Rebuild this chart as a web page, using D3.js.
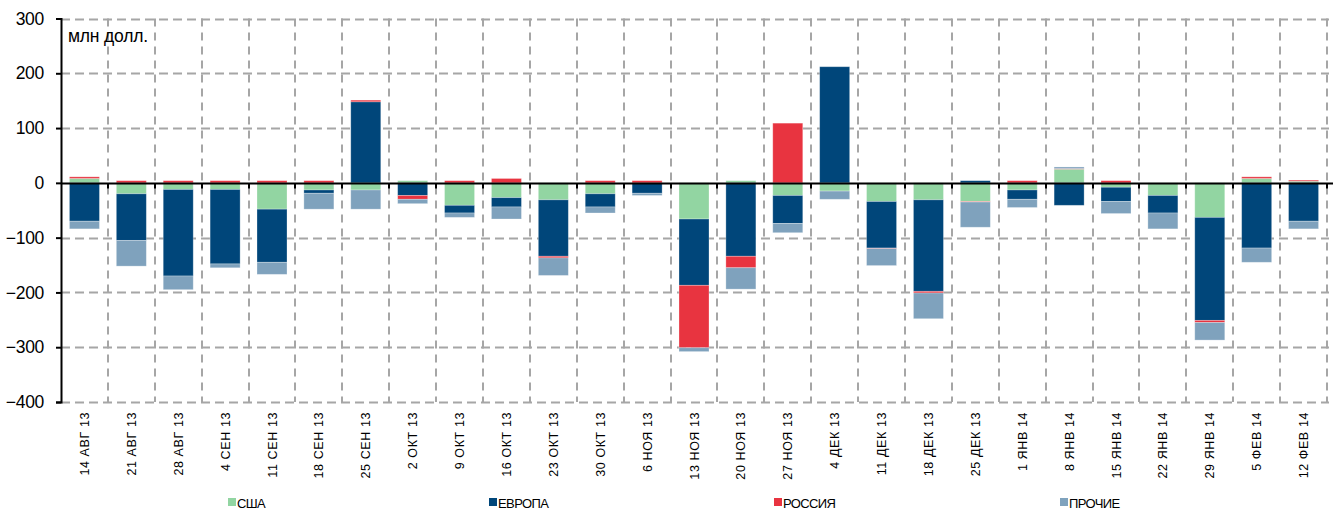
<!DOCTYPE html>
<html>
<head>
<meta charset="utf-8">
<script src="https://cdn.jsdelivr.net/npm/d3@7"></script>
<style>
  html, body { margin: 0; padding: 0; background: #fff; }
  svg { display: block; font-family: "Liberation Sans", Arial, sans-serif; }
</style>
</head>
<body>
<svg id="chart" width="1335" height="516"></svg>
<script>
// Weekly flows by region, million USD
const weeks = ["14 АВГ 13","21 АВГ 13","28 АВГ 13","4 СЕН 13","11 СЕН 13","18 СЕН 13","25 СЕН 13",
  "2 ОКТ 13","9 ОКТ 13","16 ОКТ 13","23 ОКТ 13","30 ОКТ 13","6 НОЯ 13","13 НОЯ 13","20 НОЯ 13",
  "27 НОЯ 13","4 ДЕК 13","11 ДЕК 13","18 ДЕК 13","25 ДЕК 13","1 ЯНВ 14","8 ЯНВ 14","15 ЯНВ 14",
  "22 ЯНВ 14","29 ЯНВ 14","5 ФЕВ 14","12 ФЕВ 14"];
const usa    = [8, -20, -12, -12, -48, -13, -13, 4, -41, -27, -31, -20, 0, -66, 4, -23, -15, -34, -31, -34, -13, 25, -8, -23, -63, 8, 3];
const europe = [-70, -85, -158, -136, -97, -6, 148, -23, -14, -17, -103, -24, -19, -121, -134, -51, 212, -85, -167, 4, -17, -41, -26, -32, -188, -119, -70];
const russia = [3, 4, 4, 4, 4, 4, 3, -7, 4, 8, -3, 4, 4, -114, -21, 109, 0, -1, -3, -1, 4, 1, 4, 0, -4, 3, 2];
const other  = [-14, -47, -25, -7, -22, -29, -35, -8, -8, -22, -32, -11, -4, -7, -39, -17, -15, -31, -47, -46, -15, 3, -22, -29, -32, -26, -14];

const seriesKeys  = ["usa", "europe", "russia", "other"];
const seriesNames = ["США", "ЕВРОПА", "РОССИЯ", "ПРОЧИЕ"];
const yTicks = [-400, -300, -200, -100, 0, 100, 200, 300];
const unitLabel = "млн долл.";

const colors = { usa: "#92d5a2", europe: "#00467a", russia: "#e83440", other: "#7fa2bd" };

const rows = weeks.map((w, i) => ({ week: w, usa: usa[i], europe: europe[i], russia: russia[i], other: other[i] }));

const svg = d3.select("#chart");
const plotLeft = 61, plotRight = 1327, plotTop = 18.5, plotBottom = 402;

const x = d3.scaleBand().domain(weeks).range([plotLeft, plotRight]).paddingInner(0.36).paddingOuter(0.18);
const y = d3.scaleLinear().domain([-400, 300]).range([plotBottom, plotTop]);

const boundaries = d3.range(1, weeks.length + 1).map(i => plotLeft + i * (plotRight - plotLeft) / weeks.length);

// grid
const grid = svg.append("g");
grid.selectAll("line.h").data(yTicks.filter(d => d !== 0)).join("line")
  .attr("x1", plotLeft).attr("x2", plotRight + 2)
  .attr("y1", d => Math.round(y(d)) + 0.5).attr("y2", d => Math.round(y(d)) + 0.5)
  .attr("stroke", "#a6a6a6").attr("stroke-width", 2).attr("stroke-dasharray", "9,5");
grid.selectAll("line.v").data(boundaries).join("line")
  .attr("x1", d => Math.round(d)).attr("x2", d => Math.round(d))
  .attr("y1", plotTop).attr("y2", plotBottom)
  .attr("stroke", "#a6a6a6").attr("stroke-width", 2).attr("stroke-dasharray", "8,6");

// stacked bars
const stacked = d3.stack().keys(seriesKeys).offset(d3.stackOffsetDiverging)(rows);
svg.append("g").selectAll("g").data(stacked).join("g")
  .attr("fill", d => colors[d.key])
  .selectAll("rect").data(d => d.filter(p => p[1] !== p[0])).join("rect")
  .attr("x", d => x(d.data.week))
  .attr("width", x.bandwidth())
  .attr("y", d => y(Math.max(d[0], d[1])))
  .attr("height", d => Math.abs(y(d[0]) - y(d[1])))
  .attr("stroke", "#ffffff").attr("stroke-opacity", 0.35).attr("stroke-width", 0.8);

// zero line with ticks at category boundaries
const y0 = Math.round(y(0)) + 0.5;
svg.append("line").attr("x1", plotLeft).attr("x2", plotRight + 6).attr("y1", y0).attr("y2", y0)
  .attr("stroke", "#000").attr("stroke-width", 2);
svg.append("g").selectAll("line").data(boundaries).join("line")
  .attr("x1", d => Math.round(d)).attr("x2", d => Math.round(d))
  .attr("y1", y0).attr("y2", y0 + 5)
  .attr("stroke", "#000").attr("stroke-width", 2);

// y axis
const yAxis = svg.append("g").attr("transform", `translate(${plotLeft},0)`)
  .call(d3.axisLeft(y).tickValues(yTicks).tickSize(5).tickPadding(12).tickFormat(d3.format("d")));
yAxis.select(".domain").attr("stroke", "#000").attr("stroke-width", 2);
yAxis.selectAll(".tick line").attr("stroke", "#000").attr("stroke-width", 2);
yAxis.selectAll(".tick text").attr("font-size", 17.5).attr("fill", "#000")
  .attr("font-family", "Liberation Sans, Arial, sans-serif").attr("letter-spacing", -0.3);

svg.append("text").attr("x", 68).attr("y", 42).attr("font-size", 17.5).attr("fill", "#000")
  .attr("letter-spacing", -0.2).text(unitLabel);

// category labels
svg.append("g").selectAll("text").data(weeks).join("text")
  .attr("transform", d => `translate(${x(d) + x.bandwidth() / 2 + 4.5},412) rotate(-90)`)
  .attr("text-anchor", "end")
  .attr("font-size", 12.5).attr("letter-spacing", 0.6).attr("fill", "#000")
  .text(d => d);

// legend
const legendX = [228, 489, 774, 1060];
const legend = svg.append("g").selectAll("g").data(seriesKeys).join("g")
  .attr("transform", (d, i) => `translate(${legendX[i]},498)`);
legend.append("rect").attr("width", 8).attr("height", 8).attr("fill", d => colors[d]);
legend.append("text").attr("x", 9).attr("y", 9.5).attr("font-size", 13).attr("fill", "#000")
  .attr("letter-spacing", -0.6)
  .text((d, i) => seriesNames[i]);
</script>
</body>
</html>
